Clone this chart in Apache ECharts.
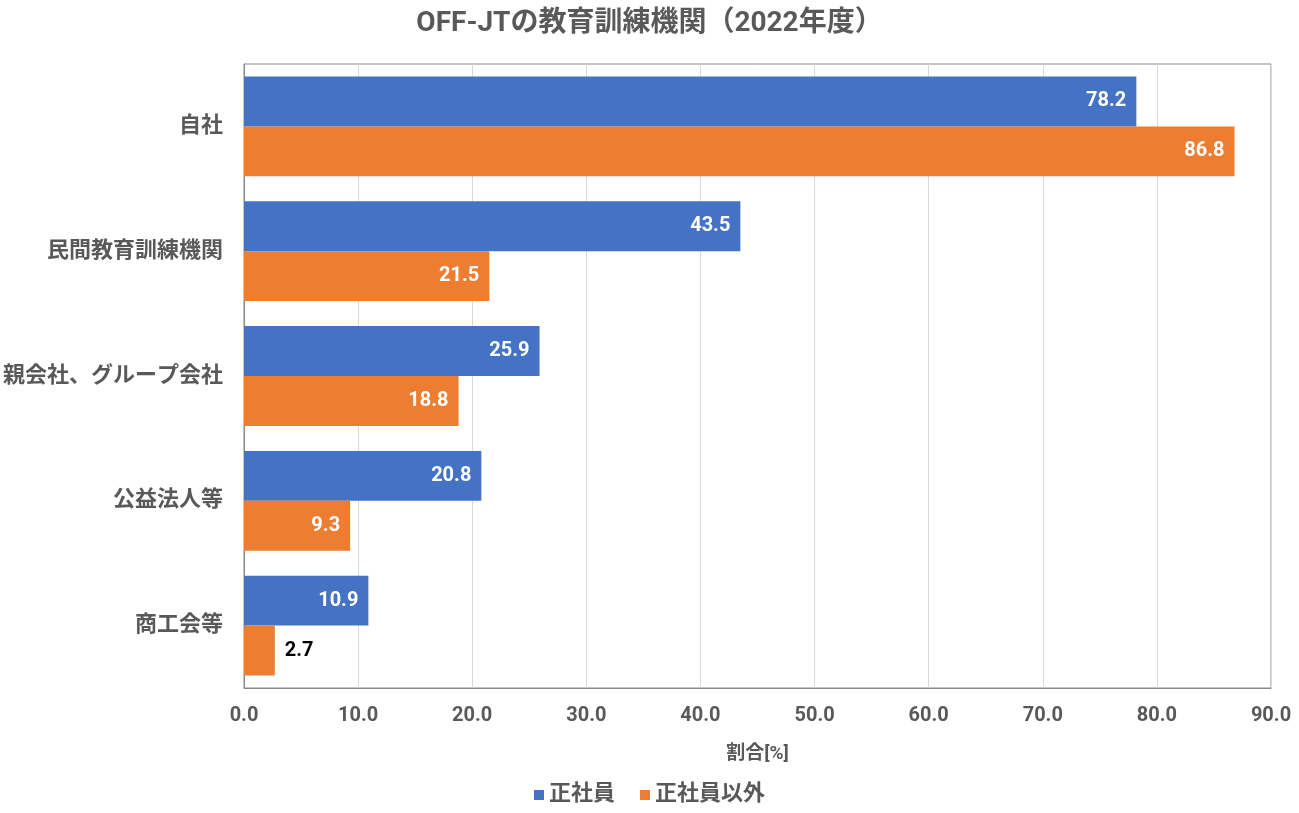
<!DOCTYPE html>
<html><head><meta charset="utf-8">
<script src="https://cdn.jsdelivr.net/npm/echarts@6/dist/echarts.min.js"></script>
<style>html,body{margin:0;padding:0;background:#fff}#c{width:1299px;height:813px}</style>
</head><body><div id="c"></div>
<script>
const categories = ['自社', '民間教育訓練機関', '親会社、グループ会社', '公益法人等', '商工会等'];
const seriesNames = ['正社員', '正社員以外'];
const regular = [78.2, 43.5, 25.9, 20.8, 10.9];
const nonRegular = [86.8, 21.5, 18.8, 9.3, 2.7];
const xTicks = { min: 0, max: 90, interval: 10 };

const FONT = "Roboto, 'Noto Sans CJK JP', sans-serif";
const TXT = '#595959';
const chart = echarts.init(document.getElementById('c'));

function labelFor(v) {
  return v < 5
    ? { show: true, position: 'right', distance: 10, color: '#000', fontWeight: 'bold', fontSize: 20, fontFamily: FONT, formatter: p => p.value.toFixed(1) }
    : { show: true, position: 'insideRight', distance: 10, color: '#fff', fontWeight: 'bold', fontSize: 20, fontFamily: FONT, formatter: p => p.value.toFixed(1) };
}
function mk(arr) { return arr.map(v => ({ value: v, label: labelFor(v) })); }

chart.setOption({
  animation: false,
  textStyle: { fontFamily: FONT },
  title: {
    text: 'OFF-JTの教育訓練機関（2022年度）',
    left: 'center', top: 5,
    textStyle: { fontFamily: FONT, fontSize: 28, fontWeight: 'bold', color: TXT }
  },
  legend: {
    bottom: 2, left: 'center',
    itemWidth: 10, itemHeight: 10, itemGap: 25, icon: 'rect',
    textStyle: { fontFamily: FONT, fontSize: 22, fontWeight: 'bold', color: TXT },
    data: seriesNames
  },
  grid: { left: 243, right: 28, top: 64, bottom: 125, show: true, borderColor: '#898989', borderWidth: 1 },
  xAxis: {
    type: 'value', min: xTicks.min, max: xTicks.max, interval: xTicks.interval,
    name: '割合[%]', nameLocation: 'middle', nameGap: 57,
    nameTextStyle: { fontFamily: FONT, fontSize: 19, fontWeight: 'bold', color: TXT },
    axisLine: { show: true, lineStyle: { color: '#898989' } },
    axisTick: { show: false },
    splitLine: { show: true, lineStyle: { color: '#d9d9d9' } },
    axisLabel: { fontFamily: FONT, fontSize: 20, fontWeight: 'bold', color: TXT, margin: 18, formatter: v => v.toFixed(1) }
  },
  yAxis: {
    type: 'category', data: categories, inverse: true,
    axisLine: { show: true, lineStyle: { color: '#898989' } },
    axisTick: { show: false },
    axisLabel: { fontFamily: FONT, fontSize: 22, fontWeight: 'bold', color: TXT, margin: 21 }
  },
  series: [
    { name: seriesNames[0], type: 'bar', data: mk(regular), itemStyle: { color: '#4472c4' }, barGap: '0%', barCategoryGap: '20%' },
    { name: seriesNames[1], type: 'bar', data: mk(nonRegular), itemStyle: { color: '#ed7d31' }, barGap: '0%', barCategoryGap: '20%' }
  ]
});
</script></body></html>
